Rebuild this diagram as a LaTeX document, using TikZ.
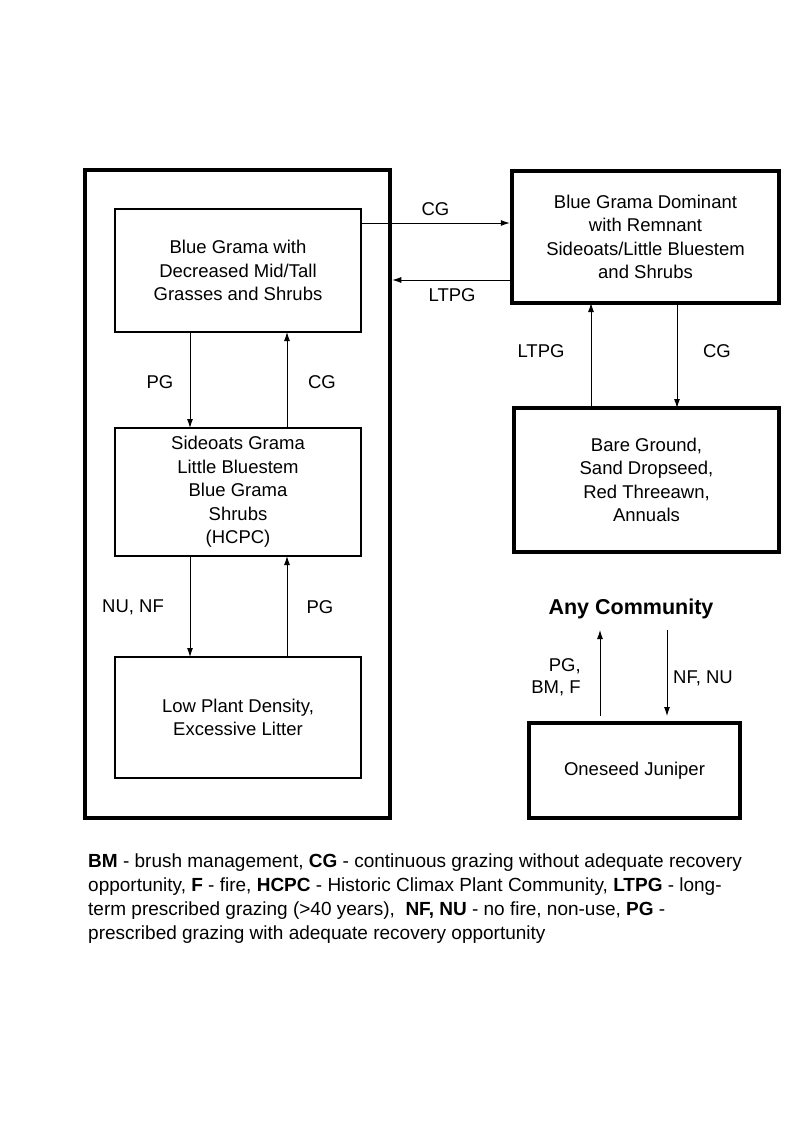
\documentclass[tikz,border=0pt]{standalone}
\usepackage{fontspec}
\setmainfont{Liberation Sans}
\usetikzlibrary{arrows.meta}
\begin{document}
\begin{tikzpicture}[x=1pt,y=-1pt,
  thinbox/.style={draw,line width=2pt,align=center,font=\fontsize{18.5}{23.5}\selectfont},
  thickbox/.style={draw,line width=4.5pt,align=center,font=\fontsize{18.5}{23.5}\selectfont},
  arr/.style={-{Latex[length=9pt,width=6pt]},line width=0.9pt},
  lbl/.style={font=\fontsize{18.5}{23}\selectfont,align=center}]
\useasboundingbox[fill=white] (0,0) rectangle (800,1143);
% outer frame
\node[draw,line width=4.5pt,minimum width=305pt,minimum height=648pt,inner sep=0pt] (outer) at (237.5,494) {};
% left column boxes
\node[thinbox,minimum width=246pt,minimum height=123pt] (A) at (238,270.5) {Blue Grama with\\Decreased Mid/Tall\\Grasses and Shrubs};
\node[thinbox,minimum width=246pt,minimum height=128pt] (B) at (238,492) {Sideoats Grama\\Little Bluestem\\Blue Grama\\Shrubs\\(HCPC)};
\node[thinbox,minimum width=246pt,minimum height=121pt] (C) at (238,717.5) {Low Plant Density,\\Excessive Litter};
% right boxes
\node[thickbox,minimum width=267pt,minimum height=132pt] (D) at (645.5,237) {Blue Grama Dominant\\with Remnant\\Sideoats/Little Bluestem\\and Shrubs};
\node[thickbox,minimum width=265pt,minimum height=144pt] (E) at (646.5,480) {Bare Ground,\\Sand Dropseed,\\Red Threeawn,\\Annuals};
\node[thickbox,minimum width=211pt,minimum height=95pt] (F) at (634.5,770.5) {Oneseed Juniper};
\node[font=\bfseries\fontsize{21.5}{24}\selectfont,inner sep=2pt] (any) at (631,609) {Any Community};
% arrows
\coordinate (ar) at (361,223);
\draw[arr] (ar) -- (ar -| D.west) node[lbl,midway,above=4pt] {CG};
\coordinate (dl) at (512,280);
\draw[arr] (dl) -- (dl -| outer.east) node[lbl,midway,below=5pt] {LTPG};
\draw[arr] (190,332) -- (190,428);
\node[lbl] (l1) at (160,382) {PG};
\draw[arr] (287,428) -- (287,332);
\node[lbl] (l2) at (322,382) {CG};
\draw[arr] (190,556) -- (190,657);
\node[lbl] (l3) at (133,607) {NU, NF};
\draw[arr] (287,657) -- (287,556);
\node[lbl] (l4) at (320,607) {PG};
\draw[arr] (677,303) -- (677,408);
\node[lbl] (l5) at (717,351) {CG};
\draw[arr] (591,408) -- (591,303);
\node[lbl] (l6) at (541,351) {LTPG};
\draw[arr] (600,716) -- (600,630);
\node[lbl,align=right,font=\fontsize{18.5}{22}\selectfont] (l7) at (556,677) {PG,\\BM, F};
\draw[arr] (667,630) -- (667,716);
\node[lbl] (l8) at (703,678) {NF, NU};
% legend
\node[anchor=north west,align=left,inner sep=0pt,font=\fontsize{19}{24}\selectfont] (legend) at (88,854) {\textbf{BM} - brush management, \textbf{CG} - continuous grazing without adequate recovery\\opportunity, \textbf{F} - fire, \textbf{HCPC} - Historic Climax Plant Community, \textbf{LTPG} - long-\\term prescribed grazing (>40 years),\ \ \textbf{NF, NU} - no fire, non-use, \textbf{PG} -\\prescribed grazing with adequate recovery opportunity};
\end{tikzpicture}
\end{document}
